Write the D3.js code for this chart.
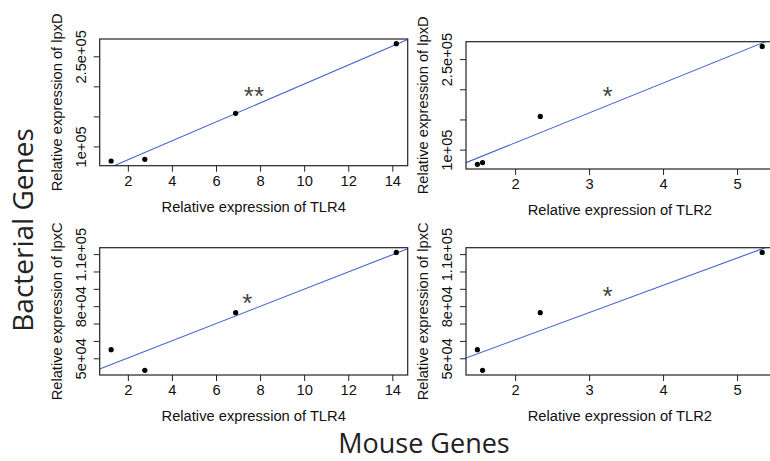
<!DOCTYPE html>
<html>
<head>
<meta charset="utf-8">
<script src="https://cdn.jsdelivr.net/npm/d3@7"></script>
<style>
  body { margin: 0; background: #fff; }
  svg { display: block; }
</style>
</head>
<body>
<div id="chart"></div>
<script>
// Measured values (one entry per mouse sample)
const tlr4 = [1.24, 2.77, 6.89, 14.18];
const tlr2 = [1.49, 1.56, 2.34, 5.34];
const lpxD = [75700, 78500, 155000, 271000];
const lpxC = [54960, 43080, 76280, 110980];

// Tick values and labels (R drops labels that would overlap)
const tlr4Ticks = [2, 4, 6, 8, 10, 12, 14];
const tlr2Ticks = [2, 3, 4, 5];
const lpxDTicks = [100000, 150000, 200000, 250000];
const lpxDTickLabels = ["1e+05", "", "", "2.5e+05"];
const lpxCTicks = [50000, 60000, 70000, 80000, 90000, 100000, 110000];
const lpxCTickLabels = ["5e+04", "", "", "8e+04", "", "", "1.1e+05"];

// Significance marks
const starText = ["**", "*", "*", "*"];
const starX = [7.72, 3.25, 7.42, 3.25];
const starY = [195700, 200200, 85900, 89800];

const w = 770;
const h = 461;

const panels = [
  { x: tlr4, y: lpxD, xt: tlr4Ticks, yt: lpxDTicks, yl: lpxDTickLabels, xlab: "Relative expression of TLR4", ylab: "Relative expression of lpxD", box: [99.7, 407.7, 39, 165.7] },
  { x: tlr2, y: lpxD, xt: tlr2Ticks, yt: lpxDTicks, yl: lpxDTickLabels, xlab: "Relative expression of TLR2", ylab: "Relative expression of lpxD", box: [466, 773.6, 41.7, 169] },
  { x: tlr4, y: lpxC, xt: tlr4Ticks, yt: lpxCTicks, yl: lpxCTickLabels, xlab: "Relative expression of TLR4", ylab: "Relative expression of lpxC", box: [99.7, 407.7, 247.7, 375] },
  { x: tlr2, y: lpxC, xt: tlr2Ticks, yt: lpxCTicks, yl: lpxCTickLabels, xlab: "Relative expression of TLR2", ylab: "Relative expression of lpxC", box: [466, 773.6, 247.7, 375] }
];

const font = "'Liberation Sans', Arial, Helvetica, sans-serif";
const fs = 14.7;
const starSize = 26;

// R style axis range: data range padded by 4%
function pad(v) {
  const [a, b] = d3.extent(v);
  const r = b - a;
  return [a - 0.04 * r, b + 0.04 * r];
}

// least squares fit
function lm(xs, ys) {
  const mx = d3.mean(xs), my = d3.mean(ys);
  let sxy = 0, sxx = 0;
  xs.forEach((x, i) => { sxy += (x - mx) * (ys[i] - my); sxx += (x - mx) * (x - mx); });
  const b = sxy / sxx;
  return { a: my - b * mx, b: b };
}

const svg = d3.select("#chart")
  .append("svg")
  .attr("width", w)
  .attr("height", h);

panels.forEach((p, k) => {
  const [x0, x1, y0, y1] = p.box;
  const xScale = d3.scaleLinear().domain(pad(p.x)).range([x0, x1]);
  const yScale = d3.scaleLinear().domain(pad(p.y)).range([y1, y0]);

  const g = svg.append("g");

  svg.append("clipPath")
    .attr("id", "clip" + k)
    .append("rect")
    .attr("x", x0).attr("y", y0)
    .attr("width", x1 - x0).attr("height", y1 - y0);

  // regression line
  const fit = lm(p.x, p.y);
  const dom = xScale.domain();
  g.append("line")
    .attr("clip-path", "url(#clip" + k + ")")
    .attr("x1", xScale(dom[0]))
    .attr("y1", yScale(fit.a + fit.b * dom[0]))
    .attr("x2", xScale(dom[1]))
    .attr("y2", yScale(fit.a + fit.b * dom[1]))
    .attr("stroke", "#3f63c8")
    .attr("stroke-width", 1.1);

  // box
  g.append("rect")
    .attr("x", x0).attr("y", y0)
    .attr("width", x1 - x0).attr("height", y1 - y0)
    .attr("fill", "none")
    .attr("stroke", "#222")
    .attr("stroke-width", 1.2);

  // x axis
  const xAxis = g.append("g")
    .attr("transform", `translate(0,${y1})`)
    .call(d3.axisBottom(xScale).tickValues(p.xt).tickFormat(d3.format("d")).tickSize(6).tickPadding(4).tickSizeOuter(0));
  xAxis.select(".domain").remove();
  xAxis.selectAll("line").attr("stroke", "#222");
  xAxis.selectAll("text")
    .attr("font-family", font)
    .attr("font-size", fs)
    .attr("fill", "#111");

  // y axis (labels rotated, as R does with las = 0)
  const yAxis = g.append("g")
    .attr("transform", `translate(${x0},0)`)
    .call(d3.axisLeft(yScale).tickValues(p.yt).tickSize(6).tickFormat((d, i) => p.yl[i]).tickSizeOuter(0));
  yAxis.select(".domain").remove();
  yAxis.selectAll("line").attr("stroke", "#222");
  yAxis.selectAll("text")
    .attr("x", null).attr("dy", null)
    .attr("transform", "translate(-19,0) rotate(-90)")
    .attr("text-anchor", "middle")
    .attr("dominant-baseline", "central")
    .attr("font-family", font)
    .attr("font-size", fs)
    .attr("fill", "#111");

  // points
  g.selectAll("circle")
    .data(p.x)
    .enter()
    .append("circle")
    .attr("cx", d => xScale(d))
    .attr("cy", (d, i) => yScale(p.y[i]))
    .attr("r", 2.6)
    .attr("fill", "#000");

  // significance stars
  g.append("text")
    .attr("x", xScale(starX[k]))
    .attr("y", yScale(starY[k]) + 0.6 * starSize)
    .attr("text-anchor", "middle")
    .attr("font-family", font)
    .attr("font-size", starSize)
    .attr("fill", "#444")
    .text(starText[k]);

  // axis titles
  g.append("text")
    .attr("x", (x0 + Math.min(x1, w)) / 2 + (x1 > w ? (x1 - w) / 2 : 0))
    .attr("y", y1 + 41)
    .attr("text-anchor", "middle")
    .attr("dominant-baseline", "central")
    .attr("font-family", font)
    .attr("font-size", fs)
    .attr("fill", "#111")
    .text(p.xlab);

  g.append("text")
    .attr("transform", `translate(${x0 - 43},${(y0 + y1) / 2}) rotate(-90)`)
    .attr("text-anchor", "middle")
    .attr("dominant-baseline", "central")
    .attr("font-family", font)
    .attr("font-size", fs)
    .attr("fill", "#111")
    .text(p.ylab);
});

// outer titles
svg.append("text")
  .attr("x", 424)
  .attr("y", 453)
  .attr("text-anchor", "middle")
  .attr("font-family", "'Open Sans', 'Noto Sans', sans-serif")
  .attr("font-size", 27)
  .attr("fill", "#222")
  .text("Mouse Genes");

svg.append("text")
  .attr("transform", "translate(33,230) rotate(-90)")
  .attr("text-anchor", "middle")
  .attr("font-family", "'Open Sans', 'Noto Sans', sans-serif")
  .attr("font-size", 28)
  .attr("fill", "#222")
  .text("Bacterial Genes");
</script>
</body>
</html>
